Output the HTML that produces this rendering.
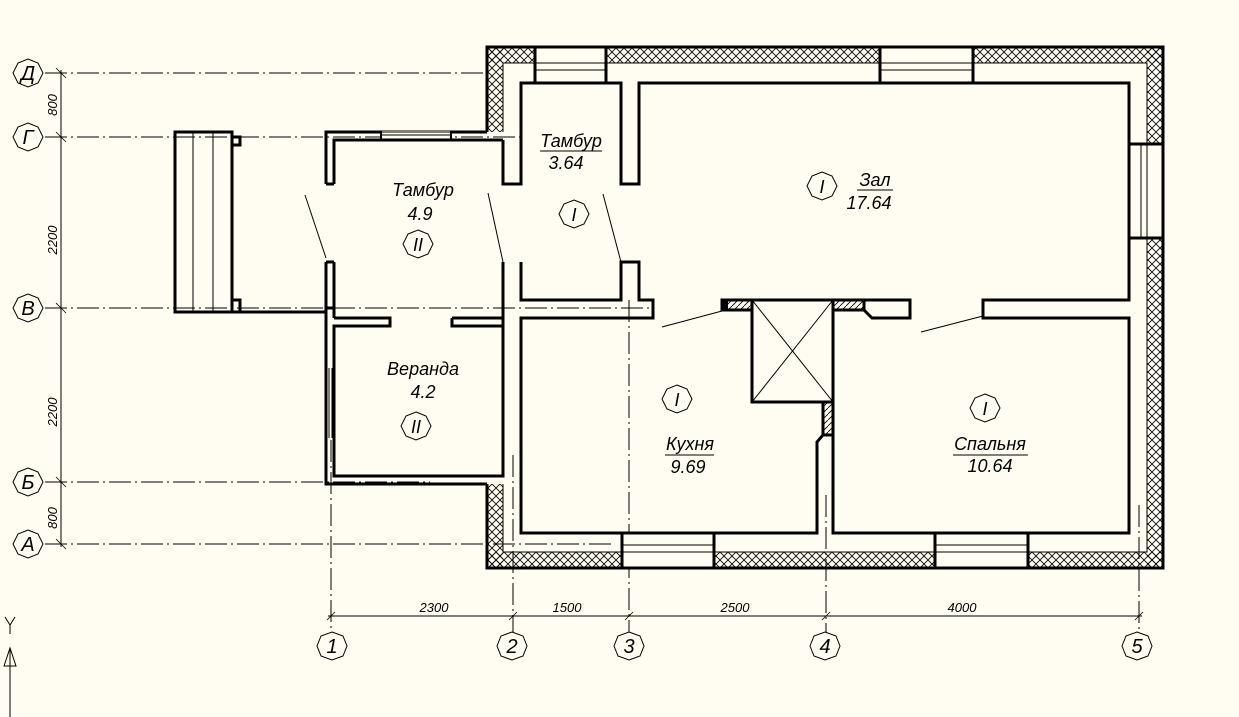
<!DOCTYPE html>
<html><head><meta charset="utf-8"><style>
html,body{margin:0;padding:0;background:#fffcf1;}
svg{display:block}
text{font-family:"Liberation Sans",sans-serif;font-style:italic;fill:#000}
</style></head><body>
<svg width="1239" height="717" viewBox="0 0 1239 717" xmlns="http://www.w3.org/2000/svg">
<defs>
<pattern id="x" width="8" height="8" patternUnits="userSpaceOnUse">
<path d="M0,0L8,8M8,0L0,8" stroke="#000" stroke-width="0.8"/>
</pattern>
<pattern id="d" width="6" height="6" patternUnits="userSpaceOnUse">
<path d="M0,6L6,0" stroke="#000" stroke-width="0.8"/>
</pattern>
</defs>
<rect width="1239" height="717" fill="#fffcf1"/>

<g stroke="#000" stroke-width="1" stroke-dasharray="22,4,2,4" fill="none">
<line x1="45" y1="73" x2="487" y2="73"/>
<line x1="45" y1="137" x2="520" y2="137"/>
<line x1="45" y1="308" x2="650" y2="308"/>
<line x1="45" y1="482" x2="430" y2="482"/>
<line x1="45" y1="544" x2="612" y2="544"/>
<line x1="331" y1="440" x2="331" y2="632"/>
<line x1="513" y1="455" x2="513" y2="632"/>
<line x1="629" y1="300" x2="629" y2="632"/>
<line x1="826" y1="495" x2="826" y2="632"/>
<line x1="1139" y1="505" x2="1139" y2="632"/>
</g>
<g stroke="#000" stroke-width="1">
<line x1="61" y1="70" x2="61" y2="547"/>
<line x1="328" y1="616" x2="1142" y2="616"/>
<g stroke-width="0.8">
<line x1="56" y1="68" x2="66" y2="78"/><line x1="56" y1="132" x2="66" y2="142"/>
<line x1="56" y1="303" x2="66" y2="313"/><line x1="56" y1="477" x2="66" y2="487"/>
<line x1="56" y1="539" x2="66" y2="549"/>
<line x1="327" y1="620" x2="335" y2="612"/><line x1="509" y1="620" x2="517" y2="612"/>
<line x1="625" y1="620" x2="633" y2="612"/><line x1="822" y1="620" x2="830" y2="612"/>
<line x1="1135" y1="620" x2="1143" y2="612"/>
</g></g>
<g font-size="13">
<text x="57" y="105" transform="rotate(-90 57 105)" text-anchor="middle">800</text>
<text x="57" y="240" transform="rotate(-90 57 240)" text-anchor="middle">2200</text>
<text x="57" y="412" transform="rotate(-90 57 412)" text-anchor="middle">2200</text>
<text x="57" y="518" transform="rotate(-90 57 518)" text-anchor="middle">800</text>
<text x="434" y="612" text-anchor="middle">2300</text>
<text x="567" y="612" text-anchor="middle">1500</text>
<text x="735" y="612" text-anchor="middle">2500</text>
<text x="962" y="612" text-anchor="middle">4000</text>
</g>

<g fill="url(#x)">
<rect x="487" y="47" width="676" height="16"/>
<rect x="487" y="47" width="16" height="85"/>
<rect x="1147" y="47" width="16" height="521"/>
<rect x="487" y="552" width="676" height="16"/>
<rect x="487" y="484" width="16" height="84"/>
</g>
<g fill="#fffcf1" stroke="#000" stroke-width="1">
<rect x="535" y="47" width="71" height="36"/>
<rect x="880" y="47" width="93" height="36"/>
<rect x="622" y="533" width="92" height="35"/>
<rect x="935" y="533" width="93" height="35"/>
<rect x="1129" y="144" width="34" height="94"/>
</g>
<g stroke="#000" stroke-width="1">
<line x1="535" y1="63" x2="606" y2="63"/><line x1="535" y1="70" x2="606" y2="70"/>
<line x1="880" y1="63" x2="973" y2="63"/><line x1="880" y1="70" x2="973" y2="70"/>
<line x1="622" y1="545" x2="714" y2="545"/><line x1="622" y1="552" x2="714" y2="552"/>
<line x1="935" y1="545" x2="1028" y2="545"/><line x1="935" y1="552" x2="1028" y2="552"/>
<line x1="1141" y1="144" x2="1141" y2="238"/><line x1="1147" y1="144" x2="1147" y2="238"/>
</g>
<g stroke="#000" stroke-width="3" fill="none">
<line x1="535" y1="47" x2="535" y2="83"/><line x1="606" y1="47" x2="606" y2="83"/>
<line x1="880" y1="47" x2="880" y2="83"/><line x1="973" y1="47" x2="973" y2="83"/>
<line x1="622" y1="533" x2="622" y2="568"/><line x1="714" y1="533" x2="714" y2="568"/>
<line x1="935" y1="533" x2="935" y2="568"/><line x1="1028" y1="533" x2="1028" y2="568"/>
<line x1="1129" y1="144" x2="1163" y2="144"/><line x1="1129" y1="238" x2="1163" y2="238"/>
<path d="M487,132 V47 H1163 V568 H487 V484"/>
<path d="M503,132 V63 H1147 V552 H503 V484" stroke-width="1"/>
</g>
<g stroke="#000" stroke-width="3" fill="none" stroke-linejoin="miter">
<path d="M503,140 V184 H521 V83 H621 V184 H639 V83 H1129 V300 H983 V318 H1129 V533 H833 V402"/>
<path d="M503,262 V476 H334 V326 H390 V318 H334"/>
<path d="M334,318 V308"/>
<path d="M521,262 V300 H621 V262 H639 V300 H653 V318 H521 V533 H817 V442 L823,435 V402"/>
<path d="M452,318 H503 M452,318 V326 H503"/>
<path d="M390,318 V326"/>
<path d="M326,262 V484 H487"/>
<path d="M334,262 V308 H326"/>
<path d="M326,184 V132 H487"/>
<path d="M334,184 V140 H503"/>
<path d="M326,184 H334 M326,262 H334"/>
<rect x="175" y="132" width="57" height="180"/>
<path d="M175,312 H326"/>
<path d="M232,137 H240 V145 H232 M232,300 H240 V312"/>
<rect x="752" y="300" width="81" height="102"/>
<rect x="722" y="300" width="30" height="10"/>
<rect x="833" y="300" width="31" height="10"/>
<path d="M864,300 H910 V318 H872 L864,310 Z"/>
<path d="M823,402 V435 H833"/>
<path d="M983,300 V318"/>
</g>
<rect x="381" y="131" width="70" height="8" fill="#fffcf1"/>
<g stroke="#000" stroke-width="1">
<line x1="381" y1="132" x2="451" y2="132"/><line x1="381" y1="135" x2="451" y2="135"/><line x1="381" y1="139" x2="451" y2="139"/>
<line x1="381" y1="131" x2="381" y2="140" stroke-width="2"/><line x1="451" y1="131" x2="451" y2="140" stroke-width="2"/>
</g>
<g fill="url(#d)"><rect x="728" y="301" width="23" height="8"/><rect x="834" y="301" width="29" height="8"/><rect x="824" y="403" width="8" height="31"/></g>
<rect x="722" y="300" width="6" height="10" fill="#000"/>
<g stroke="#000" stroke-width="1" fill="none">
<line x1="193" y1="133" x2="193" y2="311"/><line x1="213" y1="133" x2="213" y2="311"/>
<line x1="329" y1="368" x2="329" y2="438"/><line x1="332" y1="368" x2="332" y2="438"/>
<line x1="752" y1="300" x2="833" y2="402"/><line x1="833" y1="300" x2="752" y2="402"/>
<line x1="305" y1="195" x2="326" y2="258"/>
<line x1="488" y1="193" x2="503" y2="262"/>
<line x1="603" y1="194" x2="621" y2="262"/>
<line x1="662" y1="327" x2="722" y2="311"/>
<line x1="921" y1="332" x2="983" y2="316"/>
<line x1="10" y1="652" x2="10" y2="717"/>
<path d="M4,666 L10,648 L16,666 Z"/>
<line x1="10" y1="648" x2="10" y2="666"/>
<path d="M5,617 L10,625 L15,617 M10,625 V634"/>
</g>

<g stroke="#000" stroke-width="1" fill="#fffcf1">
<polygon points="28,59 38,63 43,73 38,83 28,87 18,83 13,73 18,63"/>
<polygon points="28,123 38,127 43,137 38,147 28,151 18,147 13,137 18,127"/>
<polygon points="28,294 38,298 43,308 38,318 28,322 18,318 13,308 18,298"/>
<polygon points="28,468 38,472 43,482 38,492 28,496 18,492 13,482 18,472"/>
<polygon points="28,530 38,534 43,544 38,554 28,558 18,554 13,544 18,534"/>
<polygon points="332,632 343,636 347,646 343,656 332,660 321,656 317,646 321,636"/>
<polygon points="512,632 523,636 527,646 523,656 512,660 501,656 497,646 501,636"/>
<polygon points="629,632 640,636 644,646 640,656 629,660 618,656 614,646 618,636"/>
<polygon points="825,632 836,636 840,646 836,656 825,660 814,656 810,646 814,636"/>
<polygon points="1137,632 1148,636 1152,646 1148,656 1137,660 1126,656 1122,646 1126,636"/>
<polygon points="418,230 428,234 433,244 428,254 418,258 408,254 403,244 408,234"/>
<polygon points="574,200 584,204 589,214 584,224 574,228 564,224 559,214 564,204"/>
<polygon points="822,172 832,176 837,186 832,196 822,200 812,196 807,186 812,176"/>
<polygon points="677,385 687,389 692,399 687,409 677,413 667,409 662,399 667,389"/>
<polygon points="985,394 995,398 1000,408 995,418 985,422 975,418 970,408 975,398"/>
<polygon points="416,412 426,416 431,426 426,436 416,440 406,436 401,426 406,416"/>
</g>
<g font-size="20" text-anchor="middle">
<text x="28" y="80">Д</text><text x="28" y="144">Г</text><text x="28" y="315">В</text>
<text x="28" y="489">Б</text><text x="28" y="551">А</text>
<text x="332" y="653">1</text><text x="512" y="653">2</text><text x="629" y="653">3</text>
<text x="825" y="653">4</text><text x="1137" y="653">5</text>
</g>
<g font-size="18" text-anchor="middle">
<text x="418" y="251">II</text><text x="574" y="221">I</text><text x="822" y="193">I</text>
<text x="677" y="406">I</text><text x="985" y="415">I</text><text x="416" y="433">II</text>
<text x="423" y="196">Тамбур</text><text x="420" y="220">4.9</text>
<text x="571" y="147">Тамбур</text><text x="566" y="169">3.64</text>
<text x="875" y="186">Зал</text><text x="869" y="209">17.64</text>
<text x="690" y="450">Кухня</text><text x="688" y="473">9.69</text>
<text x="990" y="450">Спальня</text><text x="990" y="472">10.64</text>
<text x="423" y="375">Веранда</text><text x="423" y="398">4.2</text>
</g>
<g stroke="#000" stroke-width="1">
<line x1="540" y1="151" x2="602" y2="151"/>
<line x1="857" y1="190" x2="893" y2="190"/>
<line x1="665" y1="455" x2="714" y2="455"/>
<line x1="953" y1="455" x2="1028" y2="455"/>
</g>
</svg>
</body></html>
